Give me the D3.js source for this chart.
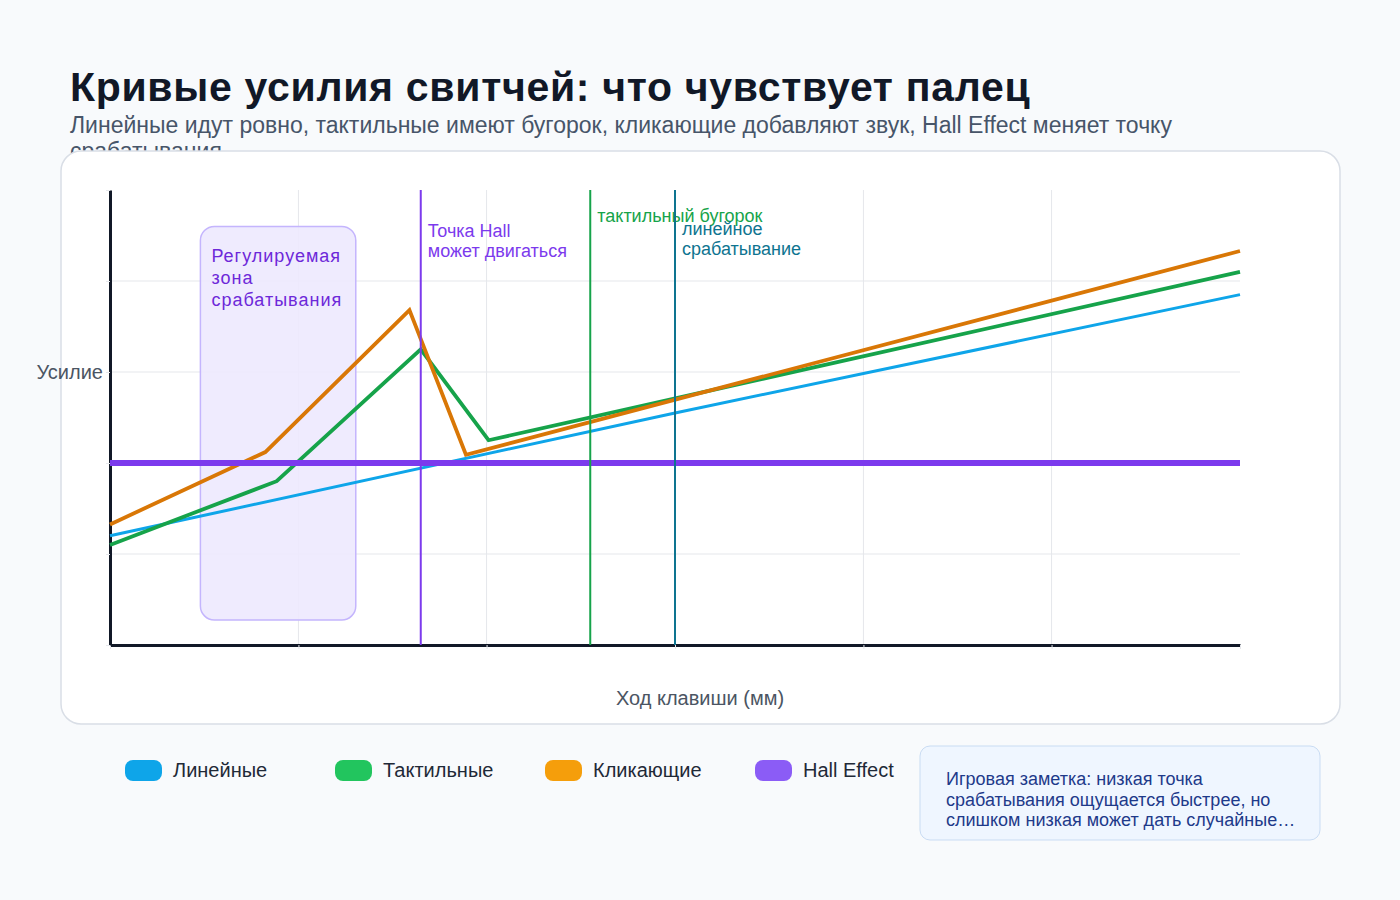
<!DOCTYPE html>
<html>
<head>
<meta charset="utf-8">
<script src="https://cdn.jsdelivr.net/npm/d3@7"></script>
<style>
  body { margin: 0; background: #f8fafc; }
  svg { display: block; font-family: "Liberation Sans", Arial, sans-serif; }
</style>
</head>
<body>
<script>
var seriesNames = ['Линейные', 'Тактильные', 'Кликающие', 'Hall Effect']
var linearTravel = [0, 2, 4]
var linearForce = [24, 51, 77]
var tactileTravel = [0, 0.59, 1.1, 1.34, 4]
var tactileForce = [22, 36, 65, 45, 82]
var clickyTravel = [0, 0.55, 1.06, 1.26, 4]
var clickyForce = [26.5, 42.4, 73.6, 41.8, 86.6]
var hallTravel = [0, 4]
var hallForce = [40, 40]

var markerTravel = [1.1, 1.7, 2.0]
var markerLabels = [['Точка Hall', 'может двигаться'], ['тактильный бугорок'], ['линейное', 'срабатывание']]
var zoneTravel = [0.32, 0.87]
var zoneForce = [5.5, 92]
var zoneLabel = ['Регулируемая', 'зона', 'срабатывания']

var xTicks = [0, 0.667, 1.333, 2, 2.667, 3.333, 4]
var yTicks = [0, 20, 40, 60, 80, 100]

var title = 'Кривые усилия свитчей: что чувствует палец'
var subtitle = ['Линейные идут ровно, тактильные имеют бугорок, кликающие добавляют звук, Hall Effect меняет точку', 'срабатывания']
var note = ['Игровая заметка: низкая точка', 'срабатывания ощущается быстрее, но', 'слишком низкая может дать случайные…']

;(function() {
  var lineColors = ['#0ea5e9', '#16a34a', '#d97706', '#7c3aed']
  var swatchColors = ['#0ea5e9', '#22c55e', '#f59e0b', '#8b5cf6']
  var lineWidths = [3, 3.8, 3.8, 6]
  var markerColors = ['#7c3aed', '#16a34a', '#0e7490']

  var svg = d3.select('body').append('svg')
    .attr('width', 1400)
    .attr('height', 900)

  svg.append('text')
    .attr('x', 70).attr('y', 101)
    .attr('font-size', 41).attr('font-weight', 700)
    .attr('letter-spacing', 0.7)
    .attr('fill', '#111827')
    .text(title)

  svg.append('text')
    .attr('font-size', 23).attr('fill', '#475569')
    .selectAll('tspan')
    .data(subtitle)
    .enter().append('tspan')
    .attr('x', 70)
    .attr('y', function(d, i) { return 133 + i * 26 })
    .text(function(d) { return d })

  // card
  svg.append('rect')
    .attr('x', 61).attr('y', 151)
    .attr('width', 1279).attr('height', 573)
    .attr('rx', 20)
    .attr('fill', '#ffffff')
    .attr('stroke', '#d9dee6')
    .attr('stroke-width', 1.5)

  var x = d3.scaleLinear().domain([0, 4]).range([110, 1240])
  var y = d3.scaleLinear().domain([0, 100]).range([645, 190])

  var g = svg.append('g')

  // grid
  g.append('g').selectAll('line')
    .data(xTicks.slice(1, -1))
    .enter().append('line')
    .attr('x1', function(d) { return x(d) })
    .attr('x2', function(d) { return x(d) })
    .attr('y1', y(100)).attr('y2', y(0))
    .attr('stroke', '#e5e7eb')

  g.append('g').selectAll('line')
    .data(yTicks.slice(1, -1))
    .enter().append('line')
    .attr('x1', x(0)).attr('x2', x(4))
    .attr('y1', function(d) { return y(d) })
    .attr('y2', function(d) { return y(d) })
    .attr('stroke', '#e5e7eb')

  // adjustable zone
  g.append('rect')
    .attr('x', x(zoneTravel[0]))
    .attr('y', y(zoneForce[1]))
    .attr('width', x(zoneTravel[1]) - x(zoneTravel[0]))
    .attr('height', y(zoneForce[0]) - y(zoneForce[1]))
    .attr('rx', 14)
    .attr('fill', '#ede9fe')
    .attr('fill-opacity', 0.9)
    .attr('stroke', '#c4b5fd')
    .attr('stroke-width', 1.5)

  g.append('text')
    .attr('font-size', 18).attr('fill', '#6d28d9')
    .attr('letter-spacing', 1)
    .selectAll('tspan')
    .data(zoneLabel)
    .enter().append('tspan')
    .attr('x', x(zoneTravel[0]) + 11)
    .attr('y', function(d, i) { return y(zoneForce[1]) + 36 + i * 22 })
    .text(function(d) { return d })

  // axes
  g.append('g')
    .attr('transform', 'translate(0,' + y(0) + ')')
    .call(d3.axisBottom(x).tickValues(xTicks).tickSize(4).tickSizeOuter(0).tickFormat(''))
    .call(function(a) {
      a.select('.domain').attr('stroke', '#111827').attr('stroke-width', 3)
      a.selectAll('.tick line').attr('stroke', '#e5e7eb')
    })

  g.append('g')
    .attr('transform', 'translate(' + x(0) + ',0)')
    .call(d3.axisLeft(y).tickValues(yTicks).tickSize(4).tickSizeOuter(0).tickFormat(''))
    .call(function(a) {
      a.select('.domain').attr('stroke', '#111827').attr('stroke-width', 3)
      a.selectAll('.tick line').attr('stroke', '#e5e7eb')
    })

  svg.append('text')
    .attr('x', 103).attr('y', y(60) + 7)
    .attr('text-anchor', 'end')
    .attr('font-size', 20).attr('fill', '#4b5563')
    .text('Усилие')

  svg.append('text')
    .attr('x', 700).attr('y', 705)
    .attr('text-anchor', 'middle')
    .attr('font-size', 20).attr('fill', '#4b5563')
    .text('Ход клавиши (мм)')

  // curves
  var series = [
    [linearTravel, linearForce],
    [tactileTravel, tactileForce],
    [clickyTravel, clickyForce],
    [hallTravel, hallForce]
  ]
  var line = d3.line()
    .x(function(d) { return x(d[0]) })
    .y(function(d) { return y(d[1]) })

  g.append('g').selectAll('path')
    .data(series)
    .enter().append('path')
    .attr('d', function(s) { return line(d3.zip(s[0], s[1])) })
    .attr('fill', 'none')
    .attr('stroke', function(d, i) { return lineColors[i] })
    .attr('stroke-width', function(d, i) { return lineWidths[i] })

  // markers
  var m = g.append('g').selectAll('g')
    .data(markerTravel)
    .enter().append('g')

  m.append('line')
    .attr('x1', function(d) { return x(d) })
    .attr('x2', function(d) { return x(d) })
    .attr('y1', y(100)).attr('y2', y(0))
    .attr('stroke', function(d, i) { return markerColors[i] })
    .attr('stroke-width', 2)

  var markerTop = [237, 222, 235]
  m.append('text')
    .attr('font-size', 18)
    .attr('fill', function(d, i) { return markerColors[i] })
    .each(function(d, i) {
      d3.select(this).selectAll('tspan')
        .data(markerLabels[i])
        .enter().append('tspan')
        .attr('x', x(d) + 7)
        .attr('y', function(t, j) { return markerTop[i] + j * 20 })
        .text(function(t) { return t })
    })

  // legend
  var lg = svg.append('g').selectAll('g')
    .data(seriesNames)
    .enter().append('g')
    .attr('transform', function(d, i) { return 'translate(' + (125 + i * 210) + ',760)' })

  lg.append('rect')
    .attr('width', 37).attr('height', 21).attr('rx', 8)
    .attr('fill', function(d, i) { return swatchColors[i] })

  lg.append('text')
    .attr('x', 48).attr('y', 17)
    .attr('font-size', 20).attr('fill', '#1f2937')
    .text(function(d) { return d })

  // note
  svg.append('rect')
    .attr('x', 920).attr('y', 746)
    .attr('width', 400).attr('height', 94)
    .attr('rx', 10)
    .attr('fill', '#eff6ff')
    .attr('stroke', '#c9dcf3')

  svg.append('text')
    .attr('font-size', 18).attr('fill', '#1e3a8a')
    .selectAll('tspan')
    .data(note)
    .enter().append('tspan')
    .attr('x', 946)
    .attr('y', function(d, i) { return 785 + i * 20.5 })
    .text(function(d) { return d })
})()
</script>
</body>
</html>
